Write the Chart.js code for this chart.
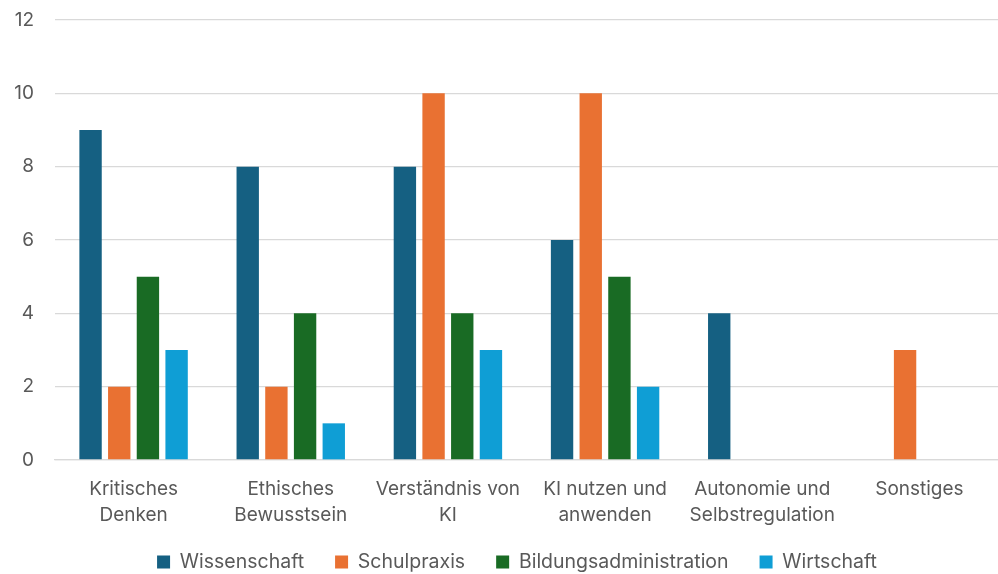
<!DOCTYPE html>
<html>
<head>
<meta charset="utf-8">
<script src="https://cdn.jsdelivr.net/npm/chart.js@4"></script>
<style>
html,body{margin:0;padding:0;background:#fff;}
#wrap{width:998px;height:574px;}
</style>
</head>
<body>
<div id="wrap"><canvas id="c" width="998" height="574"></canvas></div>
<script>
const categories = [["Kritisches","Denken"],["Ethisches","Bewusstsein"],["Verständnis von","KI"],["KI nutzen und","anwenden"],["Autonomie und","Selbstregulation"],["Sonstiges"]];
const wissenschaft = [9, 8, 8, 6, 4, null];
const schulpraxis = [2, 2, 10, 10, null, 3];
const bildungsadministration = [5, 4, 4, 5, null, null];
const wirtschaft = [3, 1, 3, 2, null, null];
const yTicks = [0, 2, 4, 6, 8, 10, 12];

const FONT = "Inter, 'Open Sans', 'Liberation Sans', sans-serif";
Chart.defaults.font.family = FONT;
Chart.defaults.color = "#595959";

// Positions the legend row (reserve a compact band, then place it).
const legendPlace = {
  id: 'legendPlace',
  beforeLayout(chart) {
    const lg = chart.legend;
    if (lg && !lg._wrapped) {
      const f = lg.fit;
      lg.fit = function () { f.call(this); this.height = 46; };
      lg._wrapped = true;
    }
  },
  afterLayout(chart) {
    const lg = chart.legend;
    if (!lg) return;
    const pad = lg.options.labels.padding;
    const fs = lg.options.labels.font.size;
    lg.top = 562 - pad - fs / 2;
    lg.bottom = chart.height;
    lg.height = lg.bottom - lg.top;
    lg.left += 18; lg.right += 18;
  }
};

new Chart(document.getElementById('c'), {
  type: 'bar',
  data: {
    labels: categories,
    datasets: [
      {label: 'Wissenschaft', data: wissenschaft, backgroundColor: '#156082'},
      {label: 'Schulpraxis', data: schulpraxis, backgroundColor: '#E97132'},
      {label: 'Bildungsadministration', data: bildungsadministration, backgroundColor: '#196B24'},
      {label: 'Wirtschaft', data: wirtschaft, backgroundColor: '#0F9ED5'}
    ]
  },
  plugins: [legendPlace],
  options: {
    responsive: false,
    animation: false,
    layout: {padding: {top: 0, right: 0, left: 0, bottom: 0}},
    datasets: {bar: {barPercentage: 0.78, categoryPercentage: 0.73}},
    scales: {
      y: {
        min: 0, max: 12,
        afterBuildTicks: s => { s.ticks = yTicks.map(v => ({value: v})); },
        afterFit: s => { s.width = 55; s.paddingTop = 20; s.paddingBottom = 0; },
        grid: {color: '#d9d9d9', lineWidth: 1.3, drawTicks: false},
        border: {display: false},
        ticks: {padding: 21, font: {size: 19}, color: '#595959'}
      },
      x: {
        afterFit: s => { s.height = 68; },
        grid: {display: false},
        border: {color: '#d9d9d9', width: 1.3},
        ticks: {padding: 8, font: {size: 19, lineHeight: 1.37}, color: '#595959', maxRotation: 0, autoSkip: false}
      }
    },
    plugins: {
      legend: {
        position: 'bottom',
        labels: {boxWidth: 13, boxHeight: 13, padding: 31, font: {size: 19.5}, color: '#595959'}
      },
      tooltip: {enabled: false}
    }
  }
});
</script>
</body>
</html>
